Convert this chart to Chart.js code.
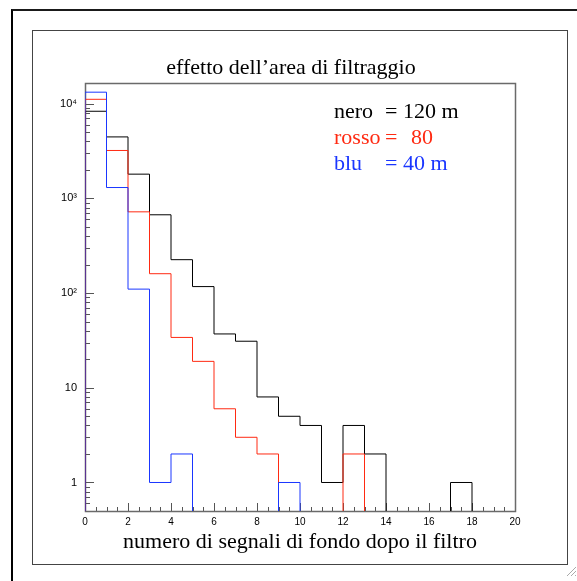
<!DOCTYPE html>
<html>
<head>
<meta charset="utf-8">
<title>effetto dell'area di filtraggio</title>
<script src="https://cdn.jsdelivr.net/npm/chart.js@4.4.1/dist/chart.umd.min.js"></script>
<style>
  html, body { margin: 0; padding: 0; background: #fff; overflow: hidden; }
  #cornice { position: absolute; left: 11px; top: 9px; width: 600px; height: 600px;
             border-top: 2px solid #1a1a1a; border-left: 2px solid #000; }
  #pannello { position: absolute; left: 32px; top: 30px; width: 534px; height: 533px;
              border: 1px solid #444; }
  #grafico { position: absolute; left: 0; top: 0; }
  #maniglia { position: absolute; left: 565px; top: 565px; }
</style>
</head>
<body>
<div id="cornice"></div>
<div id="pannello"></div>
<svg id="maniglia" width="12" height="12">
  <line x1="11" y1="2" x2="2" y2="11" stroke="#aaa" />
  <line x1="11" y1="6" x2="6" y2="11" stroke="#aaa" />
  <line x1="11" y1="10" x2="10" y2="11" stroke="#aaa" />
</svg>
<canvas id="grafico" width="577" height="581"></canvas>
<script>
// conteggi per bin (bin larghi 1, da 0 a 20)
const binInizio = [0, 1, 2, 3, 4, 5, 6, 7, 8, 9, 10, 11, 12, 13, 14, 15, 16, 17, 18, 19];
const nero  = [8300, 4450, 1800, 670, 225, 117, 37, 31, 8, 5, 4, 1, 4, 2, 0, 0, 0, 1, 0, 0];
const rosso = [11100, 3200, 720, 160, 34, 19, 6, 3, 2, 0, 0, 0, 2, 0, 0, 0, 0, 0, 0, 0];
const blu   = [13200, 1300, 110, 1, 2, 0, 0, 0, 0, 1, 0, 0, 0, 0, 0, 0, 0, 0, 0, 0];

// etichette degli assi
const xEtichette = [0, 2, 4, 6, 8, 10, 12, 14, 16, 18, 20];
const yDecadi = [1, 10, 100, 1000, 10000];
const yEtichette = ['1', '10', '10\u00B2', '10\u00B3', '10\u2074'];

const X_MIN = 0, X_MAX = 20;
const Y_MIN = 0.5, Y_MAX = 16500;
const Y_VUOTO = Y_MIN / 10;   // bin vuoti: sotto l'asse, tagliati dal clip

const colore_nero = '#000000';
const colore_rosso = '#ff2a12';
const colore_blu = '#1a36ff';
const colore_assi = '#555555';

// contorno dell'istogramma
function contorno(valori) {
  const punti = [{ x: binInizio[0], y: Y_VUOTO }];
  valori.forEach((v, i) => punti.push({ x: binInizio[i], y: v > 0 ? v : Y_VUOTO }));
  const ultimo = valori[valori.length - 1];
  punti.push({ x: X_MAX, y: ultimo > 0 ? ultimo : Y_VUOTO });
  punti.push({ x: X_MAX, y: Y_VUOTO });
  return punti;
}

function serie(valori, colore, ordine) {
  return {
    data: contorno(valori),
    borderColor: colore,
    borderWidth: 1,
    pointRadius: 0,
    fill: false,
    stepped: true,
    clip: 0,
    order: ordine
  };
}

// tacche minori del log: 2..9 per decade, piu' 0.6..0.9 sotto l'1
function tacheY() {
  const t = [];
  [0.1].concat(yDecadi).forEach(d => {
    for (let m = 1; m <= 9; m++) {
      const v = +(m * d).toPrecision(6);
      if (v >= Y_MIN && v <= Y_MAX) t.push(v);
    }
  });
  return t;
}
function tacheX() {
  const t = [];
  for (let v = X_MIN; v <= X_MAX; v += 0.5) t.push(v);
  return t;
}

// tacche rivolte verso l'interno, cornice del grafico, titolo e legenda
const stileRoot = {
  id: 'stileRoot',
  beforeDatasetsDraw(chart) {
    const { ctx, chartArea: a, scales } = chart;
    ctx.save();
    ctx.strokeStyle = colore_assi;
    ctx.lineWidth = 1;
    ctx.beginPath();
    scales.y.ticks.forEach(t => {
      const py = Math.round(scales.y.getPixelForValue(t.value)) + 0.5;
      const lung = yDecadi.includes(t.value) ? 9 : 5;
      ctx.moveTo(a.left, py);
      ctx.lineTo(a.left + lung, py);
    });
    scales.x.ticks.forEach(t => {
      const px = Math.round(scales.x.getPixelForValue(t.value)) + 0.5;
      const lung = xEtichette.includes(t.value) ? 8 : 4;
      ctx.moveTo(px, a.bottom);
      ctx.lineTo(px, a.bottom - lung);
    });
    ctx.stroke();
    ctx.strokeStyle = '#6a6a6a';
    ctx.lineWidth = 1.5;
    ctx.strokeRect(a.left + 0.5, a.top + 0.5, a.right - a.left, a.bottom - a.top);
    ctx.restore();
  },
  afterDraw(chart) {
    const ctx = chart.ctx;
    ctx.save();
    ctx.font = '22px "Liberation Serif"';
    ctx.textBaseline = 'alphabetic';
    ctx.fillStyle = '#000';
    ctx.textAlign = 'center';
    ctx.fillText('effetto dell\u2019area di filtraggio', 291, 74);
    ctx.textAlign = 'left';
    const righe = [
      ['nero', '=', '120 m', colore_nero, 118, 403],
      ['rosso', '=', '80', colore_rosso, 144, 411],
      ['blu', '=', '40 m', colore_blu, 170, 403]
    ];
    righe.forEach(([nome, uguale, valore, colore, y, xv]) => {
      ctx.fillStyle = colore;
      ctx.fillText(nome, 334, y);
      ctx.fillText(uguale, 385, y);
      ctx.fillText(valore, xv, y);
    });
    ctx.restore();
  }
};

new Chart(document.getElementById('grafico'), {
  type: 'line',
  data: {
    datasets: [
      serie(nero, colore_nero, 3),
      serie(rosso, colore_rosso, 2),
      serie(blu, colore_blu, 1)
    ]
  },
  options: {
    responsive: false,
    animation: false,
    events: [],
    layout: { padding: { left: 0, right: 62, top: 83, bottom: 20 } },
    plugins: { legend: { display: false }, tooltip: { enabled: false }, title: { display: false } },
    scales: {
      x: {
        type: 'linear',
        min: X_MIN,
        max: X_MAX,
        afterBuildTicks: s => { s.ticks = tacheX().map(v => ({ value: v })); },
        afterFit: s => { s.height = 50; },
        grid: { display: false, drawTicks: false, tickLength: 0 },
        border: { display: false },
        ticks: {
          autoSkip: false,
          maxRotation: 0,
          padding: 5,
          color: '#000',
          font: { family: '"Liberation Sans"', size: 10 },
          callback: v => (xEtichette.includes(v) ? String(v) : '')
        },
        title: {
          display: true,
          text: 'numero di segnali di fondo dopo il filtro',
          color: '#000',
          font: { family: '"Liberation Serif"', size: 22 },
          padding: { top: 0, bottom: 6 }
        }
      },
      y: {
        type: 'logarithmic',
        min: Y_MIN,
        max: Y_MAX,
        afterBuildTicks: s => { s.ticks = tacheY().map(v => ({ value: v })); },
        afterFit: s => { s.width = 85; },
        grid: { display: false, drawTicks: false, tickLength: 0 },
        border: { display: false },
        ticks: {
          autoSkip: false,
          padding: 8,
          color: '#000',
          font: { family: '"Liberation Sans"', size: 11 },
          callback: v => {
            const i = yDecadi.indexOf(v);
            return i >= 0 ? yEtichette[i] : '';
          }
        }
      }
    }
  },
  plugins: [stileRoot]
});
</script>
</body>
</html>
